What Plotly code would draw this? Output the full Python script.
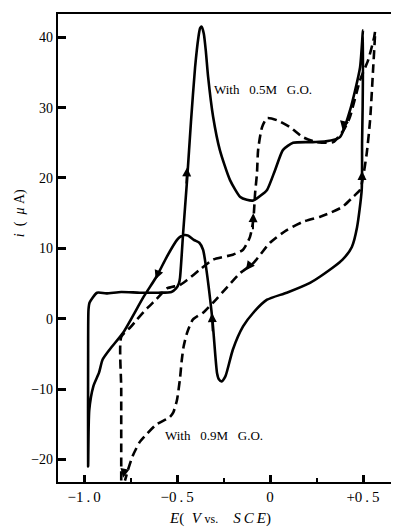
import plotly.graph_objects as go

# solid loop (forward scan, then reverse scan)
solid_E = [-0.978, -0.978, -0.976, -0.97, -0.93, -0.88, -0.80, -0.70, -0.60, -0.53, -0.505,
           -0.49, -0.484, -0.475, -0.468, -0.446, -0.425, -0.403, -0.385, -0.376, -0.367,
           -0.356, -0.345, -0.333, -0.306, -0.27, -0.215, -0.16, -0.125, -0.09, -0.05,
           -0.016, 0.027, 0.07, 0.124, 0.23, 0.30, 0.376, 0.43, 0.484, 0.50,
           0.498, 0.495, 0.493, 0.468, 0.44, 0.39, 0.27, 0.215, 0.09, -0.016, -0.09,
           -0.145, -0.2, -0.24, -0.26, -0.275, -0.285, -0.31, -0.35, -0.36, -0.38,
           -0.41, -0.44, -0.457, -0.48, -0.5, -0.555, -0.61, -0.68, -0.79, -0.86,
           -0.9, -0.92, -0.95, -0.972, -0.978]
solid_i = [-21.0, -5.0, 1.3, 2.3, 3.7, 3.6, 3.8, 3.7, 3.7, 3.8, 4.3,
           5.0, 5.8, 9.0, 11.9, 19.7, 28.0, 35.7, 40.0, 41.3, 41.5,
           40.5, 38.0, 34.4, 28.7, 24.0, 19.7, 17.3, 16.9, 16.8, 17.5,
           18.3, 21.1, 24.0, 25.0, 25.1, 25.2, 25.8, 29.6, 35.7, 41.0,
           30.0, 25.0, 18.3, 13.0, 10.2, 8.4, 6.0, 5.1, 3.7, 2.7, 0.85,
           -1.1, -4.4, -8.2, -8.9, -8.6, -7.7, -0.1, 8.4, 9.8, 10.8,
           11.2, 11.8, 11.9, 11.7, 11.2, 8.8, 6.0, 3.1, -2.0, -4.3,
           -5.8, -7.7, -9.6, -13.0, -21.0]

# dashed loop (forward scan, then reverse scan)
dash_E = [-0.80, -0.80, -0.80, -0.75, -0.715, -0.66, -0.61, -0.555, -0.484, -0.446,
          -0.376, -0.306, -0.2, -0.145, -0.108, -0.09, -0.08, -0.07, -0.064, -0.043,
          -0.016, 0.038, 0.108, 0.177, 0.25, 0.34, 0.40, 0.43, 0.484, 0.527, 0.56,
          0.565, 0.554, 0.538, 0.52, 0.50, 0.484, 0.446, 0.39, 0.32, 0.27, 0.18,
          0.09, 0.0, -0.09, -0.16, -0.23, -0.306, -0.36, -0.414, -0.446, -0.465,
          -0.475, -0.484, -0.50, -0.52, -0.54, -0.61, -0.66, -0.70, -0.74, -0.765,
          -0.78]
dash_i = [-23.0, -10.0, -2.6, -1.2, -0.1, 1.5, 2.8, 4.3, 4.8, 5.5,
          7.0, 8.4, 9.1, 9.8, 11.6, 14.0, 17.9, 20.7, 24.0, 27.2,
          28.5, 28.2, 27.2, 25.8, 25.1, 25.1, 27.0, 28.7, 33.9, 36.7, 40.0,
          40.8, 35.3, 28.2, 23.5, 20.1, 18.3, 17.3, 15.9, 15.0, 14.5, 13.8,
          12.6, 10.8, 7.9, 6.5, 4.5, 2.3, 0.85, -0.1, -2.0, -4.0,
          -6.0, -8.5, -11.5, -13.3, -14.0, -15.0, -16.3, -17.5, -19.6, -21.6,
          -23.0]

# direction arrows: tail -> head
arrow_tail_E = [-0.450, -0.60, -0.308, 0.40, -0.092, -0.11, 0.494, -0.78]
arrow_tail_i = [19.0, 6.6, -2.0, 28.0, 12.5, 7.6, 18.5, -21.3]
arrow_head_E = [-0.446, -0.615, -0.312, 0.39, -0.09, -0.13, 0.495, -0.79]
arrow_head_i = [21.5, 5.6, 0.8, 26.8, 15.0, 6.9, 21.0, -22.6]

x_tickvals = [-1.0, -0.5, 0.0, 0.5]
x_ticktext = ["\u22121\u2009.\u20090", "\u22120\u2009.\u20095", "0", "+0\u2009.\u20095"]
x_minor = [-0.75, -0.25, 0.25]
y_tickvals = [-20, -10, 0, 10, 20, 30, 40]
y_ticktext = ["\u221220", "\u221210", "0", "10", "20", "30", "40"]

serif = "Liberation Serif, DejaVu Serif, serif"

fig = go.Figure()
fig.add_trace(go.Scatter(x=solid_E, y=solid_i, mode="lines",
                         line=dict(color="black", width=2.6, shape="spline", smoothing=0.6),
                         name="With 0.5M G.O."))
fig.add_trace(go.Scatter(x=dash_E, y=dash_i, mode="lines",
                         line=dict(color="black", width=2.6, dash="9px,5px",
                                   shape="spline", smoothing=0.6),
                         name="With 0.9M G.O."))

for tx, ty, hx, hy in zip(arrow_tail_E, arrow_tail_i, arrow_head_E, arrow_head_i):
    fig.add_annotation(x=hx, y=hy, ax=tx, ay=ty, xref="x", yref="y", axref="x", ayref="y",
                       text="", showarrow=True, arrowhead=2, arrowsize=0.9,
                       arrowwidth=2, arrowcolor="black")

fig.add_annotation(x=-0.04, y=32.6, text="With\u2002 0.5M\u2002 G.O.", showarrow=False,
                   font=dict(family=serif, size=13, color="black"))
fig.add_annotation(x=-0.30, y=-16.6, text="With\u2002 0.9M\u2002 G.O.", showarrow=False,
                   font=dict(family=serif, size=13, color="black"))

# axis titles
fig.add_annotation(xref="paper", yref="paper", x=-0.112, y=0.575, textangle=-90,
                   xanchor="center", yanchor="middle",
                   text="<i>i</i>\u2002(\u2002<i>\u03bc</i> A)", showarrow=False,
                   font=dict(family=serif, size=14, color="black"))
fig.add_annotation(xref="paper", yref="paper", x=0.48, y=-0.078,
                   xanchor="center", yanchor="middle",
                   text="<i>E</i>(\u2002<i>V</i> <span style='font-size:12px'>vs.</span>\u2003<i>S\u2009C\u2009E</i>)",
                   showarrow=False, font=dict(family=serif, size=15, color="black"))

fig.update_xaxes(range=[-1.14, 0.672], tickvals=x_tickvals, ticktext=x_ticktext,
                 ticks="inside", ticklen=7, tickwidth=2.5, tickcolor="black",
                 minor=dict(tickvals=x_minor, ticks="inside", ticklen=4, tickwidth=2,
                            tickcolor="black"),
                 showline=True, linecolor="black", linewidth=2.2, mirror=True,
                 showgrid=False, zeroline=False, automargin=False,
                 tickfont=dict(family=serif, size=15, color="black"))
fig.update_yaxes(range=[-23.2, 43.3], tickvals=y_tickvals, ticktext=y_ticktext,
                 ticks="inside", ticklen=8, tickwidth=2.5, tickcolor="black",
                 showline=True, linecolor="black", linewidth=2.2, mirror=True,
                 showgrid=False, zeroline=False, automargin=False,
                 tickfont=dict(family=serif, size=14, color="black"))

# page body adds an 8px offset, so the figure is sized to land the frame where the original has it
fig.update_layout(width=391, height=520, showlegend=False,
                  margin=dict(l=50, r=4, t=6, b=46),
                  plot_bgcolor="white", paper_bgcolor="white")

fig.write_html("out.html")
